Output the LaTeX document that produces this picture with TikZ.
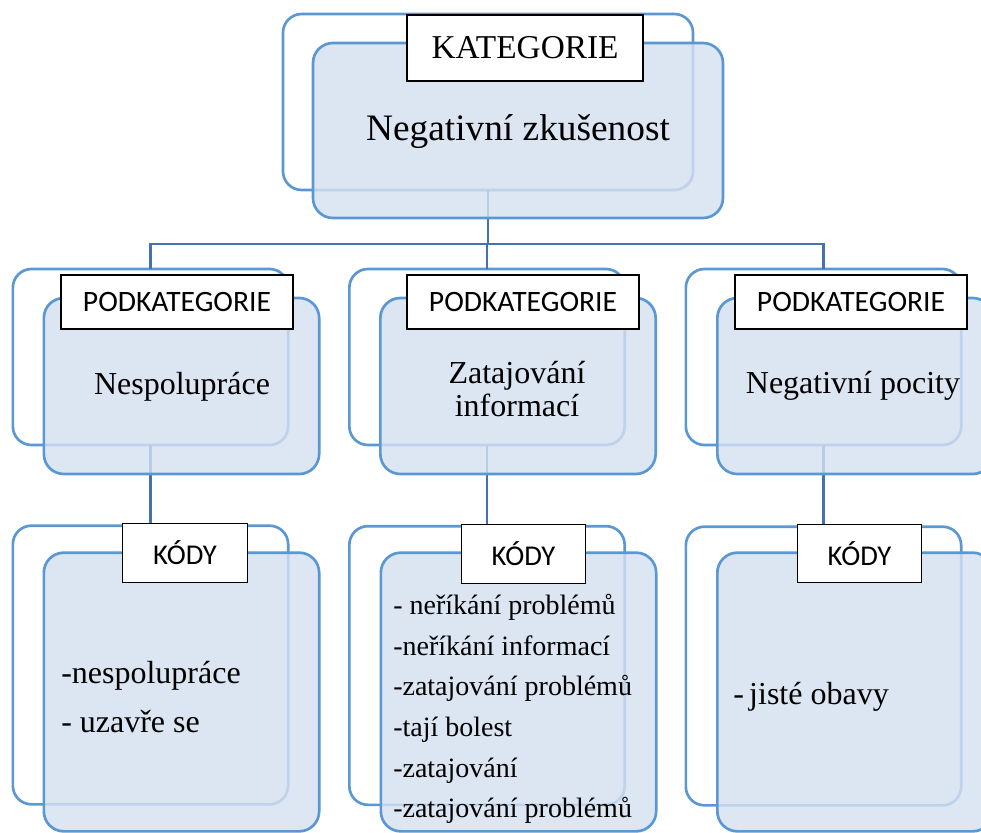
\documentclass[tikz,border=0pt]{standalone}
\usepackage{fontspec}
\setmainfont{Liberation Serif}
\newfontfamily\calibfont{Carlito}
\usepackage{tikz}
\usetikzlibrary{positioning,calc}
\definecolor{edgeblue}{RGB}{91,152,211}
\definecolor{linkblue}{RGB}{68,114,176}
\definecolor{panelfill}{RGB}{213,224,240}
\tikzset{
  backbox/.style={draw=edgeblue, line width=2pt, rounded corners=14pt, fill=white,
    inner sep=0pt, outer sep=0pt},
  frontbox/.style={draw=edgeblue, line width=2pt, rounded corners=15pt, fill=panelfill,
    fill opacity=0.82, inner sep=0pt, outer sep=0pt},
  labelbox/.style={draw=black, line width=0.8pt, fill=white, inner sep=0pt, outer sep=0pt},
  link/.style={draw=linkblue, line width=2.1pt},
  subsize/.style={minimum width=206.5pt, minimum height=132pt},
  codesize/.style={minimum width=206.5pt, minimum height=209pt},
  sublabel/.style={labelbox, minimum width=174pt, minimum height=40.5pt,
    font=\calibfont\fontsize{22.2}{24}\selectfont},
  codelabel/.style={labelbox, minimum width=93.5pt, minimum height=44pt,
    font=\calibfont\fontsize{21.5}{24}\selectfont},
  subtext/.style={align=center, font=\fontsize{24}{25}\selectfont},
}
\begin{document}
\begin{tikzpicture}[x=0.75pt, y=-0.75pt]
\useasboundingbox (0,0) rectangle (981,832);
\clip (0,0) rectangle (981,832);

\node[backbox, minimum width=307.5pt, minimum height=132pt] (katBack) at (488,102) {};
\node[backbox, subsize] (subBackA) at (150.5,357) {};
\node[backbox, subsize] (subBackB) at (487,357) {};
\node[backbox, subsize] (subBackC) at (823.5,357) {};
\node[backbox, codesize] (codeBackA) at (150.5,665) {};
\node[backbox, codesize] (codeBackB) at (487,665.5) {};
\node[backbox, codesize] (codeBackC) at (823.5,666) {};

\coordinate (split) at (488,244);
\draw[link] (katBack.south) -- (split);
\draw[link] (split) -| (subBackA.north);
\draw[link] (split) -| (subBackB.north);
\draw[link] (split) -| (subBackC.north);
\draw[link] (subBackA.south) -- (codeBackA.north);
\draw[link] (subBackB.south) -- (codeBackB.north);
\draw[link] (subBackC.south) -- (codeBackC.north);

\node[frontbox, minimum width=307.5pt, minimum height=131.25pt] (katFront) at (518,130.5) {};
\node[frontbox, subsize] (subFrontA) at (181.5,386) {};
\node[frontbox, subsize] (subFrontB) at (518,386) {};
\node[frontbox, subsize] (subFrontC) at (855,386) {};
\node[frontbox, codesize] (codeFrontA) at (181.5,692) {};
\node[frontbox, codesize] (codeFrontB) at (518.5,692) {};
\node[frontbox, codesize] (codeFrontC) at (855,692) {};

\node[labelbox, minimum width=177pt, minimum height=49.5pt,
  font=\fontsize{25}{27}\selectfont] (katLabel) at (525,48) {KATEGORIE};
\node[sublabel] (subLabelA) at (177,302) {PODKATEGORIE};
\node[sublabel] (subLabelB) at (523,302) {PODKATEGORIE};
\node[sublabel] (subLabelC) at (851,302) {PODKATEGORIE};
\node[codelabel] (codeLabelA) at (185,553) {KÓDY};
\node[codelabel] (codeLabelB) at (523.5,554) {KÓDY};
\node[codelabel] (codeLabelC) at (859.5,553.5) {KÓDY};

\node[font=\fontsize{28}{30}\selectfont] (katText) at (518,132) {Negativní zkušenost};
\node[subtext] (subTextA) at (182,387) {Nespolupráce};
\node[subtext] (subTextB) at (517,389) {Zatajování\\informací};
\node[subtext] (subTextC) at (853,386) {Negativní pocity};

\node[anchor=west, align=left, inner sep=0pt, font=\fontsize{24}{36.75}\selectfont]
  (codeTextA) at (61,697) {-nespolupráce\\- uzavře se};
\node[anchor=west, align=left, inner sep=0pt, font=\fontsize{21}{30.5}\selectfont]
  (codeTextB) at (393,709) {- neříkání problémů\\-neříkání informací\\-zatajování problémů\\-tají bolest\\-zatajování\\-zatajování problémů};
\node[anchor=west, align=left, inner sep=0pt, font=\fontsize{24}{30}\selectfont]
  (codeTextC) at (733,697) {-\,jisté obavy};
\end{tikzpicture}
\end{document}
